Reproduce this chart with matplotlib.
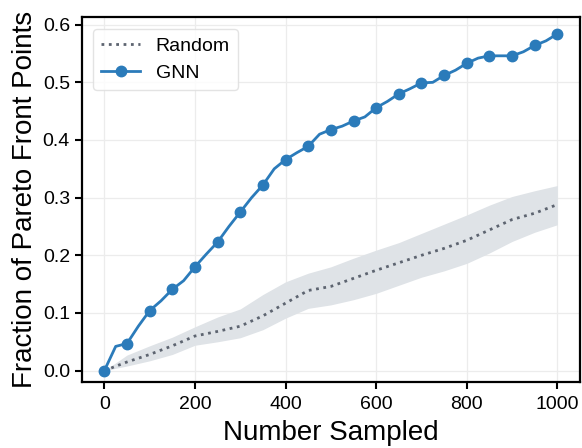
import numpy as np
import matplotlib
matplotlib.use("Agg")
import matplotlib.pyplot as plt

plt.rcParams['font.family'] = ['Liberation Sans', 'DejaVu Sans']

# GNN search: fraction of Pareto front found, read every 25 samples
gnn_n = np.arange(0, 1001, 25)
gnn_frac = [
    0.000, 0.042, 0.047, 0.077, 0.104, 0.121, 0.141, 0.156, 0.180, 0.202,
    0.223, 0.250, 0.275, 0.300, 0.322, 0.350, 0.366, 0.378, 0.389, 0.410,
    0.418, 0.424, 0.433, 0.440, 0.456, 0.467, 0.480, 0.489, 0.499, 0.500,
    0.512, 0.521, 0.533, 0.542, 0.546, 0.546, 0.546, 0.553, 0.564, 0.572,
    0.584,
]

# Random sampling: mean with spread band, every 50 samples
rand_n = np.arange(0, 1001, 50)
rand_mean = [
    0.000, 0.015, 0.028, 0.043, 0.060, 0.068, 0.077, 0.095, 0.117, 0.139,
    0.146, 0.160, 0.174, 0.187, 0.200, 0.212, 0.226, 0.244, 0.262, 0.273,
    0.288,
]
rand_upper = [
    0.000, 0.027, 0.043, 0.058, 0.076, 0.093, 0.107, 0.132, 0.154, 0.169,
    0.180, 0.195, 0.209, 0.222, 0.238, 0.254, 0.270, 0.287, 0.302, 0.312,
    0.321,
]
rand_lower = [
    0.000, 0.008, 0.017, 0.028, 0.044, 0.050, 0.057, 0.071, 0.091, 0.108,
    0.114, 0.123, 0.134, 0.148, 0.162, 0.173, 0.186, 0.204, 0.224, 0.240,
    0.253,
]

fig = plt.figure(figsize=(5.82, 4.48), dpi=100)
ax = fig.add_axes([0.1404, 0.147, 0.8562, 0.814])

ax.fill_between(rand_n, rand_lower, rand_upper, color='#dfe3e7', lw=0)
ax.plot(rand_n, rand_mean, ls=':', lw=2.0, color='#5d6470', label='Random')
ax.plot(gnn_n, gnn_frac, '-o', lw=2.0, color='#2b7bba', ms=7.5,
        markevery=2, label='GNN')

ax.set_xlim(-50, 1050)
ax.set_ylim(-0.02, 0.6125)
ax.set_xticks([0, 200, 400, 600, 800, 1000])
ax.set_yticks([0.0, 0.1, 0.2, 0.3, 0.4, 0.5, 0.6])
ax.set_yticklabels(['0.0', '0.1', '0.2', '0.3', '0.4', '0.5', '0.6'])

ax.grid(True, color='#ececec', lw=0.9)
ax.set_axisbelow(True)
for s in ax.spines.values():
    s.set_linewidth(1.6)
    s.set_color('black')
ax.tick_params(labelsize=14, width=1.5, length=5, direction='out')
ax.tick_params(axis='x', pad=5)

ax.set_xlabel('Number Sampled', fontsize=20, labelpad=5)
ax.set_ylabel('Fraction of Pareto Front Points', fontsize=20, labelpad=3)

ax.legend(loc='upper left', fontsize=14, frameon=True, fancybox=True,
          edgecolor='#dddddd', borderaxespad=0.6)

fig.savefig('out.png', dpi=100)
